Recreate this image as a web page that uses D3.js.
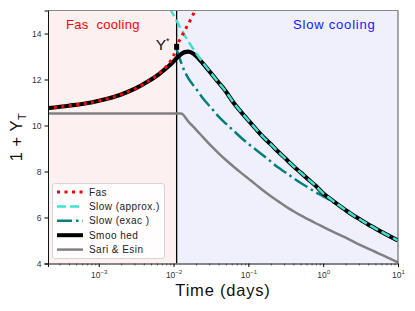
<!DOCTYPE html>
<html><head><meta charset="utf-8">
<script src="https://cdn.jsdelivr.net/npm/d3@7/dist/d3.min.js"></script>
<style>
html,body{margin:0;padding:0;background:#fff;}
svg{display:block;font-family:"Liberation Sans",Arial,sans-serif;}
</style></head>
<body><svg id="c" width="415" height="311"></svg>
<script>
// ---- data (time in days, value = 1 + Y_T) ----
const tStar = 0.011;
const yStar = 13.42;
const xDomain = [2.1e-4, 10];
const yDomain = [4, 15];
const yTicks = [4, 6, 8, 10, 12, 14];
const xMajorTicks = [1e-3, 1e-2, 1e-1, 1, 10];
const xTickExponents = ["−3", "−2", "−1", "0", "1"];

const fastCooling = [
  [2.0e-4,10.75],[3.98e-4,10.86],[7.94e-4,11.00],[1.26e-3,11.15],[2.0e-3,11.35],
  [3.16e-3,11.62],[4.47e-3,11.90],[6.31e-3,12.24],[7.94e-3,12.55],[9.33e-3,12.85],
  [0.01,13.02],[0.011,13.45],[0.0126,13.82],[0.0146,14.22],[0.0170,14.62],
  [0.0195,15.02],[0.0224,15.4]
];
const slowApprox = [
  [8.91e-3,15.1],[0.01,14.8],[0.0126,14.2],[0.0158,13.65],[0.02,13.15],
  [0.0251,12.7],[0.0316,12.28],[0.0398,11.88],[0.0501,11.48],[0.0631,11.0],
  [0.0794,10.6],[0.1,10.22],[0.126,9.85],[0.158,9.5],[0.2,9.18],[0.251,8.86],
  [0.316,8.55],[0.398,8.24],[0.501,7.95],[0.631,7.66],[0.794,7.38],[1,7.05],
  [1.26,6.80],[1.58,6.56],[2.0,6.32],[2.51,6.10],[3.16,5.90],[3.98,5.70],
  [5.01,5.52],[6.31,5.34],[7.94,5.17],[10,5.00]
];
const slowExact = [
  [0.011,13.3],[0.0126,12.75],[0.0141,12.35],[0.0158,12.05],[0.02,11.6],
  [0.0251,11.15],[0.0316,10.78],[0.0398,10.4],[0.0501,10.08],[0.0631,9.78],
  [0.0794,9.48],[0.1,9.2],[0.126,8.95],[0.158,8.7],[0.2,8.43],[0.251,8.17],
  [0.316,7.95],[0.398,7.72],[0.501,7.5],[0.631,7.3],[0.794,7.1],[1,6.92],
  [1.26,6.74],[1.58,6.52],[2.0,6.29],[2.51,6.07],[3.16,5.87],[3.98,5.67],
  [5.01,5.49],[6.31,5.31],[7.94,5.14],[10,4.97]
];
const smoothed = [
  [2.0e-4,10.75],[3.98e-4,10.86],[7.94e-4,11.00],[1.26e-3,11.15],[2.0e-3,11.35],
  [3.16e-3,11.62],[4.47e-3,11.90],[6.31e-3,12.22],[7.94e-3,12.48],[0.01,12.78],
  [0.011,12.93],[0.0126,13.10],[0.0141,13.19],[0.0158,13.21],[0.0178,13.15],
  [0.02,13.02],[0.0224,12.85],[0.0251,12.67],[0.0282,12.47],[0.0316,12.28],
  [0.0398,11.88],[0.0501,11.48],[0.0631,11.0],[0.0794,10.6],[0.1,10.22],
  [0.126,9.85],[0.158,9.5],[0.2,9.18],[0.251,8.86],[0.316,8.55],[0.398,8.24],
  [0.501,7.95],[0.631,7.66],[0.794,7.38],[1,7.05],[1.26,6.80],[1.58,6.56],
  [2.0,6.32],[2.51,6.10],[3.16,5.90],[3.98,5.70],[5.01,5.52],[6.31,5.34],
  [7.94,5.17],[10,5.00]
];
const sariEsin = [
  [2.0e-4,10.52],[0.0126,10.52],[0.0158,10.17],[0.02,9.82],[0.0251,9.47],
  [0.0316,9.12],[0.0398,8.80],[0.0501,8.50],[0.0631,8.22],[0.0794,7.95],
  [0.1,7.69],[0.126,7.43],[0.158,7.17],[0.2,6.92],[0.251,6.70],[0.316,6.48],
  [0.398,6.28],[0.501,6.09],[0.631,5.92],[0.794,5.75],[1,5.59],[1.26,5.43],
  [1.58,5.28],[2.0,5.12],[2.51,4.96],[3.16,4.80],[3.98,4.65],[5.01,4.50],
  [6.31,4.35],[7.94,4.20],[10,4.05]
];

const legendItems = [
  {name:"Fas", hidden:"t", tail:"", color:"#ff0000", width:3, dash:"3,4.5"},
  {name:"Slow (approx.)", hidden:"", tail:"", color:"#40e0d0", width:2.5, dash:"9,4"},
  {name:"Slow (exac", hidden:"t", tail:")", color:"#008080", width:2.5, dash:"15,4,2.5,4"},
  {name:"Smoo", hidden:"t", tail:"hed", color:"#000000", width:4, dash:null},
  {name:"Sari & Esin", hidden:"", tail:"", color:"#808080", width:2.5, dash:null}
];

// ---- drawing ----
const L = 48, R = 398, T = 10.5, B = 263.5;
const svg = d3.select("#c");
const x = d3.scaleLog().domain(xDomain).range([L, R]);
const y = d3.scaleLinear().domain(yDomain).range([B, T]);

svg.append("defs").append("clipPath").attr("id","clip")
  .append("rect").attr("x",L).attr("y",T).attr("width",R-L).attr("height",B-T);

// backgrounds
svg.append("rect").attr("x",L).attr("y",T).attr("width",x(tStar)-L).attr("height",B-T).attr("fill","#fdf0f0");
svg.append("rect").attr("x",x(tStar)).attr("y",T).attr("width",R-x(tStar)).attr("height",B-T).attr("fill","#f0f0fc");

const line = d3.line().x(d=>x(d[0])).y(d=>y(d[1])).curve(d3.curveMonotoneX);
const g = svg.append("g").attr("clip-path","url(#clip)");

function draw(data, color, w, dash){
  const p = g.append("path").attr("d", line(data)).attr("fill","none")
    .attr("stroke", color).attr("stroke-width", w);
  if(dash) p.attr("stroke-dasharray", dash);
  return p;
}
// vertical line at t*
g.append("line").attr("x1",x(tStar)).attr("x2",x(tStar)).attr("y1",T).attr("y2",B)
  .attr("stroke","#000").attr("stroke-width",1.3);

draw(sariEsin, "#808080", 2.5, null);
draw(slowExact, "#008080", 2.5, "15,4,2.5,4");
draw(smoothed, "#000000", 4.2, null);
draw(slowApprox, "#40e0d0", 2.5, "9,4");
draw(fastCooling, "#ff0000", 3, "3,4.5");

// Y* marker
svg.append("rect").attr("x",x(tStar)-2.5).attr("y",y(yStar)-3).attr("width",5).attr("height",6).attr("fill","#000");
const ys = svg.append("text").attr("x",x(tStar)-21).attr("y",y(yStar)+3)
  .attr("font-size",15.5).attr("fill","#111");
ys.append("tspan").text("Y");
ys.append("tspan").attr("dy",-6).attr("font-size",9).text("*");

// region titles
const ft = svg.append("text").attr("x",66).attr("y",29).attr("font-size",13)
  .attr("letter-spacing",0.3).attr("fill","#ff0000");
ft.append("tspan").text("Fas");
ft.append("tspan").attr("fill-opacity",0).text("t");
ft.append("tspan").text(" cooling");
svg.append("text").attr("x",293).attr("y",29).attr("font-size",13).attr("letter-spacing",0.8)
  .attr("fill","#1515ff").text("Slow cooling");

// frame
svg.append("line").attr("x1",L).attr("x2",R).attr("y1",T).attr("y2",T).attr("stroke","#888").attr("stroke-width",1);
svg.append("line").attr("x1",R).attr("x2",R).attr("y1",T).attr("y2",B).attr("stroke","#555").attr("stroke-width",1);

// axes
const yAxis = svg.append("g").attr("transform",`translate(${L},0)`)
  .call(d3.axisLeft(y).tickValues(yTicks).tickSize(3.5).tickPadding(3).tickFormat(d3.format("d")));
yAxis.select(".domain").attr("stroke","#111");
yAxis.selectAll("text").attr("font-size",8.5).attr("fill","#333").attr("font-family","Liberation Sans, Arial, sans-serif");

const minor = [];
for (let e = -4; e <= 0; e++) for (let k = 2; k <= 9; k++) {
  const v = k * Math.pow(10, e);
  if (v >= xDomain[0] && v <= xDomain[1]) minor.push(v);
}
const xMinor = svg.append("g").attr("transform",`translate(0,${B})`)
  .call(d3.axisBottom(x).tickValues(minor).tickSize(2).tickFormat(""));
xMinor.select(".domain").remove();
xMinor.selectAll("line").attr("stroke","#333").attr("stroke-width",0.7);

const xAxis = svg.append("g").attr("transform",`translate(0,${B})`)
  .call(d3.axisBottom(x).tickValues(xMajorTicks).tickSize(3.5).tickFormat(""));
xAxis.select(".domain").attr("stroke","#111");
xAxis.selectAll(".tick").each(function(d,i){
  const t = d3.select(this).append("text").attr("y",14).attr("text-anchor","middle")
    .attr("fill","#333").attr("font-size",8.5).attr("font-family","Liberation Sans, Arial, sans-serif");
  t.append("tspan").text("10");
  t.append("tspan").attr("dy",-4).attr("font-size",6).text(xTickExponents[i]);
});

// axis labels
svg.append("text").attr("x",(L+R)/2).attr("y",296).attr("text-anchor","middle")
  .attr("font-size",16.5).attr("letter-spacing",0.8).attr("fill","#111").text("Time (days)");
const yl = svg.append("text").attr("transform",`translate(22,${(T+B)/2}) rotate(-90)`)
  .attr("text-anchor","middle").attr("font-size",16.5).attr("letter-spacing",0.5).attr("fill","#111");
yl.append("tspan").text("1 + Y");
yl.append("tspan").attr("dy",4).attr("font-size",11).text("T");

// legend
const lg = svg.append("g");
lg.append("rect").attr("x",52.5).attr("y",183.5).attr("width",112).attr("height",75).attr("rx",2.5)
  .attr("fill","#fff").attr("fill-opacity",0.85).attr("stroke","#ccc").attr("stroke-width",0.8);
legendItems.forEach((it,i)=>{
  const yy = 192 + i*14.4;
  const ln = lg.append("line").attr("x1",57).attr("x2",83).attr("y1",yy).attr("y2",yy)
    .attr("stroke",it.color).attr("stroke-width",it.width);
  if (it.dash) ln.attr("stroke-dasharray", it.dash);
  const tx = lg.append("text").attr("x",89).attr("y",yy+3.5).attr("font-size",10)
    .attr("letter-spacing",0.45).attr("fill","#222");
  tx.append("tspan").text(it.name);
  if (it.hidden) tx.append("tspan").attr("fill-opacity",0).text(it.hidden);
  if (it.tail) tx.append("tspan").text(it.tail);
});
</script></body></html>
